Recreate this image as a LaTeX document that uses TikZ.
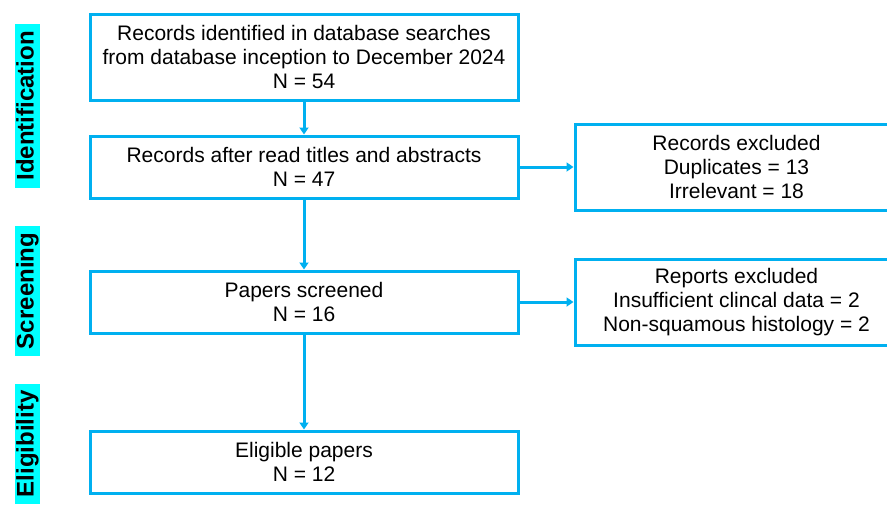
\documentclass[tikz,border=0pt]{standalone}
\usepackage{fontspec}
\setmainfont{Liberation Sans}
\usetikzlibrary{positioning,arrows.meta}
\definecolor{flowblue}{HTML}{00B0F0}
\definecolor{phasecyan}{HTML}{00FFFF}

\begin{document}
\begin{tikzpicture}[x=1pt, y=-1pt,
  box/.style={draw=flowblue, line width=3pt, align=center, minimum width=428pt,
              minimum height=62pt, inner sep=4pt, font=\fontsize{21}{24}\selectfont},
  excl/.style={box, minimum width=323pt, minimum height=86pt},
  phase/.style={fill=phasecyan, rotate=90, font=\fontsize{24}{24}\selectfont\bfseries,
                inner xsep=7pt, inner ysep=1pt, text height=18pt, text depth=5pt},
  arr/.style={draw=flowblue, line width=3pt, -{Triangle[length=7pt, width=9pt]}}]
\useasboundingbox (0,0) rectangle (887,507);
% main column
\node[box, minimum height=86pt] (ident) at (304,57)
  {Records identified in database searches\\from database inception to December 2024\\N = 54};
\node[box, below=33pt of ident] (titles) {Records after read titles and abstracts\\N = 47};
\node[box, below=70pt of titles] (screened) {Papers screened\\N = 16};
\node[box, below=95pt of screened] (eligible) {Eligible papers\\N = 12};
% exclusions on the right
\node[excl, right=54pt of titles] (dupl) {Records excluded\\Duplicates = 13\\Irrelevant = 18};
\node[excl, right=54pt of screened] (reports)
  {Reports excluded\\Insufficient clincal data = 2\\Non-squamous histology = 2};
\draw[arr] (ident) -- (titles); \draw[arr] (titles) -- (screened);
\draw[arr] (screened) -- (eligible);
\draw[arr] (titles) -- (dupl); \draw[arr] (screened) -- (reports);
% phase labels
\node[phase] (ph1) at (27,106) {Identification};
\node[phase] (ph2) at (27,291) {Screening};
\node[phase] (ph3) at (27,444) {Eligibility};
\end{tikzpicture}
\end{document}
